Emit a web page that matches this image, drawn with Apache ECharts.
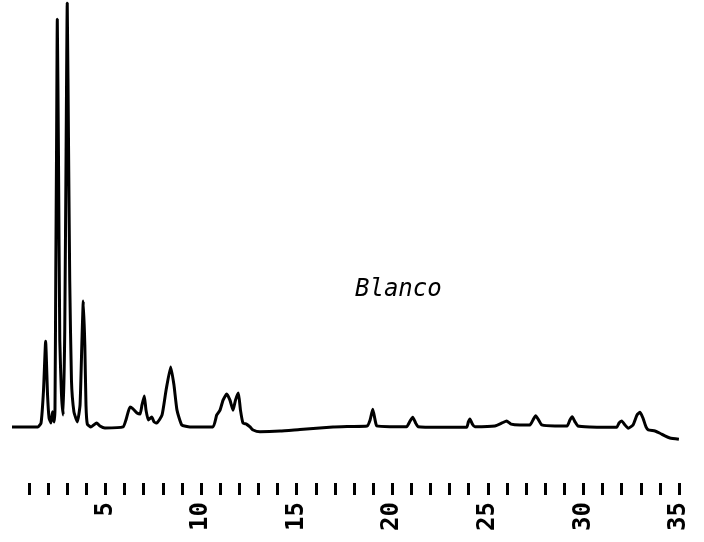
<!DOCTYPE html>
<html>
<head>
<meta charset="utf-8">
<script src="https://cdn.jsdelivr.net/npm/echarts@6/dist/echarts.min.js"></script>
<style>
html,body{margin:0;padding:0;background:#fff;}
#chart{width:704px;height:542px;}
</style>
</head>
<body>
<div id="chart"></div>
<script>
// Retention time (min)
const timeMin = [0.11,1.47,1.63,1.76,1.87,1.97,2.05,2.15,2.23,2.31,2.36,2.40,2.44,2.48,2.54,2.61,2.70,2.79,2.87,2.94,3.00,3.07,3.13,3.22,3.35,3.53,3.67,3.77,3.84,3.92,3.98,4.05,4.24,4.54,4.71,4.97,5.92,6.07,6.28,6.44,6.65,6.81,6.91,7.03,7.12,7.24,7.42,7.54,7.68,7.96,8.17,8.41,8.58,8.74,8.99,9.42,10.62,10.82,10.99,11.15,11.34,11.51,11.67,11.80,11.95,12.06,12.19,12.37,12.56,12.72,13.08,14.13,15.17,16.9,17.79,18.68,18.84,18.98,19.10,19.19,19.88,20.75,20.93,21.07,21.22,21.35,22.49,23.89,23.98,24.06,24.19,24.32,25.37,25.74,25.98,26.21,26.68,27.2,27.36,27.5,27.65,27.82,28.51,29.14,29.29,29.41,29.56,29.71,30.34,31.13,31.74,31.86,32.0,32.17,32.34,32.59,32.8,32.96,33.11,33.27,33.39,33.74,34.0,34.26,34.52,34.99];
// Detector signal (relative units)
const signal = [2.84,2.84,3.76,11.3,22.5,10.2,4.9,3.76,6.3,4.0,7.2,37.7,66,96.3,66,22.7,10.2,5.6,25,66,100,66,36.5,13.6,6.3,4.0,7.9,22.8,31.7,21.6,7.9,3.5,2.84,3.76,3.07,2.6,2.84,4.45,7.4,7.0,6.05,5.8,7.9,9.95,6.7,4.45,5.13,4.0,3.76,5.6,11.3,16.6,12.5,6.7,3.3,2.84,2.84,5.6,6.7,9.0,10.4,9.0,6.7,9.0,10.6,6.7,3.76,3.5,2.84,2.15,1.76,1.9,2.27,2.84,2.96,3.07,4.45,6.9,4.45,3.07,2.91,2.91,4.2,5.06,3.76,2.91,2.77,2.77,4.0,4.67,3.5,2.91,3.07,3.76,4.22,3.5,3.3,3.3,4.45,5.43,4.45,3.3,3.07,3.07,4.45,5.2,4.0,3.07,2.84,2.77,2.77,3.76,4.22,3.3,2.54,3.3,5.6,6.2,4.9,2.84,2.15,1.93,1.4,0.78,0.32,0.02];
// Axis labels
const tickLabels = ['5','10','15','20','25','30','35'];
const sampleName = 'Blanco';

const data = timeMin.map((t, i) => [t, signal[i]]);
const chart = echarts.init(document.getElementById('chart'), null, {renderer: 'canvas'});
chart.setOption({
  animation: false,
  backgroundColor: '#fff',
  grid: [
    {left: 9.88, width: 669.2, top: 3, height: 480, outerBoundsMode: 'none', containLabel: false},
    {left: 29, width: 650, top: 3, height: 480, outerBoundsMode: 'none', containLabel: false}
  ],
  xAxis: [
    {type: 'value', gridIndex: 0, min: 0, max: 35, show: false},
    {
      type: 'value', gridIndex: 1, min: 1, max: 35, interval: 1,
      axisLine: {show: false},
      splitLine: {show: false},
      axisTick: {show: true, length: 12, lineStyle: {color: '#000', width: 3}},
      axisLabel: {
        rotate: 90, margin: 19, color: '#000',
        fontFamily: 'DejaVu Sans Mono', fontSize: 24, fontWeight: 'bold',
        formatter: v => tickLabels.includes(String(v)) ? String(v) : ''
      }
    }
  ],
  yAxis: [
    {type: 'value', gridIndex: 0, min: -10, max: 100, show: false, splitLine: {show: false}},
    {type: 'value', gridIndex: 1, min: 0, max: 1, show: false, splitLine: {show: false}}
  ],
  graphic: [{
    type: 'text', left: 355, top: 278,
    style: {text: sampleName, font: 'italic 24px "DejaVu Sans Mono"', fill: '#000'}
  }],
  series: [{
    type: 'line', xAxisIndex: 0, yAxisIndex: 0, data: data, showSymbol: false, smooth: 0.15,
    lineStyle: {color: '#000', width: 3}
  }]
});
</script>
</body>
</html>
